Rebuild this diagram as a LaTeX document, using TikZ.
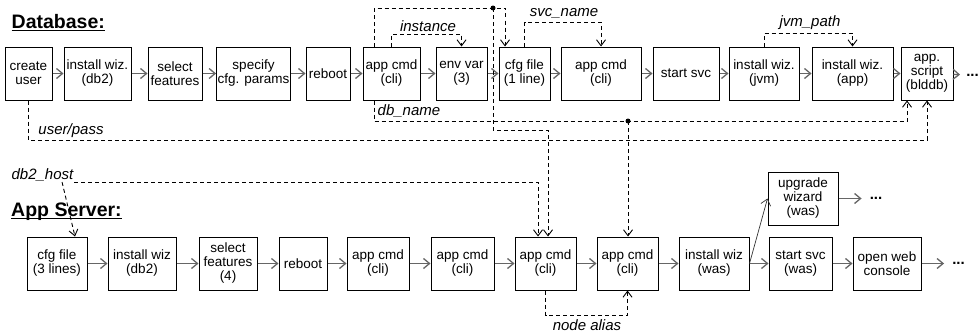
\documentclass[tikz,border=0pt]{standalone}
\usepackage{fontspec}
\setmainfont{Liberation Sans}
\usetikzlibrary{arrows.meta}

\begin{document}
\begin{tikzpicture}[x=1pt, y=-1pt,
  box/.style={draw, line width=1pt, minimum height=53pt, inner sep=1pt, align=center, font=\fontsize{13.5}{14}\selectfont},
  flow/.style={draw=black!60, line width=1.3pt, -{Straight Barb[length=6pt,width=10pt]}},
  dep/.style={draw=black, line width=0.9pt, dash pattern=on 4pt off 3pt, -{Straight Barb[length=6pt,width=9pt]}},
  lbl/.style={font=\fontsize{15}{15}\selectfont\itshape, inner sep=0.5pt},
  head/.style={font=\fontsize{19.5}{19.5}\selectfont\bfseries, inner sep=0pt, anchor=base west},
  more/.style={font=\fontsize{15}{15}\selectfont\bfseries, inner xsep=8pt, inner ysep=0pt}]

\useasboundingbox (0,0) rectangle (980,332);

% Section headings
\node[head] (dbhead) at (11.5,28) {Database:};
\draw[line width=1.5pt] ([yshift=-2.5pt]dbhead.base west) -- ([yshift=-2.5pt]dbhead.base east);
\node[head] (ashead) at (11,216) {App Server:};
\draw[line width=1.5pt] ([yshift=-2.5pt]ashead.base west) -- ([yshift=-2.5pt]ashead.base east);

% Database steps
\node[box, minimum width=47pt] (cuser) at (28.5,73.5) {create\\user};
\node[box, minimum width=67pt] (dbinst) at (97.5,73.5) {install wiz.\\(db2)};
\node[box, minimum width=54pt] (dbsel) at (175,73.5) {select\\features};
\node[box, minimum width=73pt] (dbspec) at (253.5,73.5) {specify\\cfg. params};
\node[box, minimum width=44pt] (dbboot) at (328,73.5) {reboot};
\node[box, minimum width=57pt] (dbapp) at (391.5,73.5) {app cmd\\(cli)};
\node[box, minimum width=51pt] (dbenv) at (461.5,73.5) {env var\\(3)};
\node[box, minimum width=51pt] (dbcfg) at (524.5,73.5) {cfg file\\(1 line)};
\node[box, minimum width=80pt] (dbapp2) at (601,73.5) {app cmd\\(cli)};
\node[box, minimum width=66pt] (dbsvc) at (686,73.5) {start svc};
\node[box, minimum width=70pt] (dbjvm) at (764,73.5) {install wiz.\\(jvm)};
\node[box, minimum width=81pt] (dbwiz) at (852.5,73.5) {install wiz.\\(app)};
\node[box, minimum width=52pt] (dbscript) at (927,73.5) {app.\\script\\(blddb)};
\node[more, inner xsep=6pt] (dbmore) at (972.5,75) {...};

% Database flow
\draw[flow] (cuser) -- (dbinst);
\draw[flow] (dbinst) -- (dbsel);
\draw[flow] (dbsel) -- (dbspec);
\draw[flow] (dbspec) -- (dbboot);
\draw[flow] (dbboot) -- (dbapp);
\draw[flow] (dbapp) -- (dbenv);
\draw[flow] (dbenv) -- (dbcfg);
\draw[flow] (dbcfg) -- (dbapp2);
\draw[flow] (dbapp2) -- (dbsvc);
\draw[flow] (dbsvc) -- (dbjvm);
\draw[flow] (dbjvm) -- (dbwiz);
\draw[flow] (dbwiz) -- (dbscript);
\draw[flow] (dbscript) -- (dbmore);

% App server steps
\node[box, minimum width=60pt] (ascfg) at (57,263.5) {cfg file\\(3 lines)};
\node[box, minimum width=68pt] (asinst) at (142,263.5) {install wiz\\(db2)};
\node[box, minimum width=58pt] (assel) at (228,263.5) {select\\features\\(4)};
\node[box, minimum width=48pt] (asboot) at (303,263.5) {reboot};
\node[box, minimum width=62pt] (asapp1) at (378,263.5) {app cmd\\(cli)};
\node[box, minimum width=63pt] (asapp2) at (462.5,263.5) {app cmd\\(cli)};
\node[box, minimum width=61pt] (asapp3) at (545.5,263.5) {app cmd\\(cli)};
\node[box, minimum width=61pt] (asapp4) at (627.5,263.5) {app cmd\\(cli)};
\node[box, minimum width=70pt] (aswas) at (714,263.5) {install wiz\\(was)};
\node[box, minimum width=63pt] (assvc) at (800.5,263.5) {start svc\\(was)};
\node[box, minimum width=68pt] (asweb) at (887,263.5) {open web\\console};
\node[more] (asmore) at (958.5,263.5) {...};
\node[box, minimum width=70pt] (asupg) at (803,198.5) {upgrade\\wizard\\(was)};
\node[more] (upmore) at (876,198.5) {...};

% App server flow
\draw[flow] (ascfg) -- (asinst);
\draw[flow] (asinst) -- (assel);
\draw[flow] (assel) -- (asboot);
\draw[flow] (asboot) -- (asapp1);
\draw[flow] (asapp1) -- (asapp2);
\draw[flow] (asapp2) -- (asapp3);
\draw[flow] (asapp3) -- (asapp4);
\draw[flow] (asapp4) -- (aswas);
\draw[flow] (aswas) -- (assvc);
\draw[flow] (assvc) -- (asweb);
\draw[flow] (asweb) -- (asmore);
\draw[flow] (asupg) -- (upmore);
\draw[flow, draw=black!80, line width=0.7pt] (aswas.east) -- (asupg.west);

% instance
\coordinate (instY) at (0,34);
\draw[dep] (dbapp.north) -- (dbapp.north |- instY) -| (dbenv.north);
\node[lbl] (instlbl) at (428,26) {instance};

% svc_name
\coordinate (svcY) at (0,22);
\draw[dep] (dbcfg.north) -- (dbcfg.north |- svcY) -| (dbapp2.north);
\node[lbl] (svclbl) at (564,13) {svc\_name};

% jvm_path
\coordinate (jvmY) at (0,33);
\draw[dep] (dbjvm.north) -- (dbjvm.north |- jvmY) -| (dbwiz.north);
\node[lbl] (jvmlbl) at (810,23) {jvm\_path};

% link over the top, with a branch down to the app server
\coordinate (tl) at (374,8);
\coordinate (tj) at (493,8);
\coordinate (tr) at (505,8);
\draw[dep] (dbapp.north -| tl) -- (tl) -- (tr) -- (dbcfg.north -| tr);
\coordinate (tk) at (548,130);
\draw[dep] (tj) |- (tk) -- (asapp3.north -| tk);
\fill (tj) circle (2.5pt);

% db_name
\coordinate (nl) at (374,121);
\coordinate (nj) at (628,121);
\coordinate (nr) at (907,121);
\draw[dep] (dbapp.south -| nl) -- (nl) -- (nr) -- (dbscript.south -| nr);
\draw[dep] (nj) -- (asapp4.north -| nj);
\fill (nj) circle (2.5pt);
\node[lbl] (namelbl) at (409,111) {db\_name};

% user/pass
\coordinate (upY) at (0,140);
\draw[dep] (cuser.south) -- (cuser.south |- upY) -| (dbscript.south);
\node[lbl] (uplbl) at (71,131) {user/pass};

% db2_host
\node[lbl] (hostlbl) at (42.5,175) {db2\_host};
\draw[dep] (hostlbl.south east) -| ([xshift=-7.5pt]asapp3.north);
\draw[dep] ([xshift=-12pt]hostlbl.south east) -- ([xshift=18pt]ascfg.north);

% node alias
\coordinate (naY) at (0,315);
\draw[dep] (asapp3.south) -- (asapp3.south |- naY) -| (asapp4.south);
\node[lbl] (nalbl) at (587,325) {node alias};

\end{tikzpicture}
\end{document}
